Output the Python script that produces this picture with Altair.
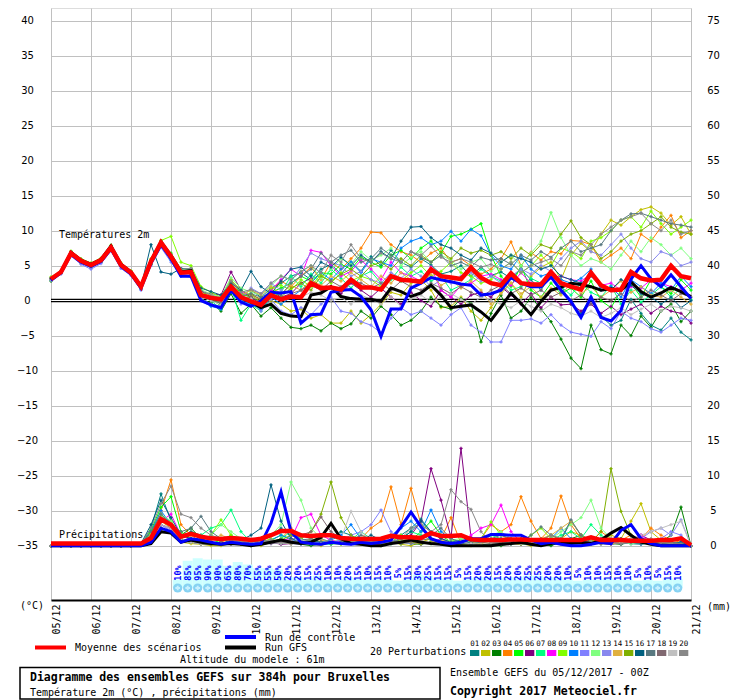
import altair as alt
import pandas as pd

# ---------------- data ----------------
DATES = ["05/12", "06/12", "07/12", "08/12", "09/12", "10/12", "11/12", "12/12", "13/12",
         "14/12", "15/12", "16/12", "17/12", "18/12", "19/12", "20/12", "21/12"]
PERT_NAMES = ["01", "02", "03", "04", "05", "06", "07", "08", "09", "10",
              "11", "12", "13", "14", "15", "16", "17", "18", "19", "20"]
PERT_COLORS = ["#008080", "#c0c000", "#008000", "#ff8000", "#00ff00", "#800080", "#00ff80",
               "#ff00ff", "#80ff00", "#0080ff", "#8080ff", "#80ff80", "#8888ee", "#e0b040",
               "#80b000", "#006080", "#587880", "#806870", "#c0c0c0", "#888888"]

# temperatures 2m (deg C), one value every 6h from 05/12 00Z to 21/12 00Z
T_MEAN = [3.1, 4.1, 6.8, 5.7, 5.1, 5.8, 7.6, 5.1, 4.0, 2.0, 5.6, 8.3, 6.3,
          4.0, 4.1, 0.8, 0.4, 0.2, 2.0, 0.5, -0.1, -0.6, 0.8, 0.2, 0.6, 0.5, 2.5, 1.8, 1.9,
          1.6, 3.0, 1.9, 1.9, 1.6, 3.5, 3.0, 2.9, 2.7, 4.5, 3.5, 3.3, 3.1, 4.7, 3.3, 2.5,
          2.2, 3.9, 2.5, 2.3, 2.3, 4.1, 2.5, 2.0, 1.6, 4.0, 2.2, 1.5, 1.6, 4.1, 3.2, 2.9,
          3.0, 5.0, 3.5, 3.2]
T_CTRL = [2.9, 4.0, 6.6, 5.5, 4.9, 5.6, 7.4, 4.9, 3.8, 1.8, 5.4, 8.0, 6.0,
          3.5, 3.5, 0.0, -0.6, -1.0, 1.5, -0.2, -0.8, 0.0, 1.2, 1.1, 1.3, -3.2, -2.0, -1.9, 1.2,
          1.5, 1.6, 0.6, -1.3, 0.5, 0.8, 2.7, 4.8, 2.7, 1.0, 0.5, 0.3, 0.5, 1.0, 1.0, 1.6,
          1.6, 1.5, 1.5, 0.8, 0.3, 0.5, 0.2, 0.0, 0.0, 0.2, 0.5, 0.3, 2.2, 3.0, 1.0, 0.3,
          0.0, 0.0, 0.0, 0.0]
T_CTRL = [2.9, 4.0, 6.6, 5.5, 4.9, 5.6, 7.4, 4.9, 3.8, 1.8, 5.4, 8.0, 6.0,
          3.5, 3.5, 0.0, -0.6, -1.0, 1.5, -0.2, -0.8, 0.0, 1.2, 1.1, 1.3, -3.2, -2.0, -1.9, 1.2,
          1.5, 1.6, 0.6, -1.3, -5.1, -1.2, -1.2, 1.8, 2.5, 3.3, 3.0, 2.7, 2.4, 2.2, 0.8, 1.0,
          1.5, 3.3, 2.5, 2.0, 2.0, 3.4, 1.5, -0.1, -2.4, 0.5, -2.4, -2.9, -1.4, 3.1, 5.0, 3.1,
          2.0, 3.7, 2.0, 0.3]
T_GFS = [3.0, 4.1, 6.9, 5.8, 5.2, 5.9, 7.8, 5.2, 4.1, 2.1, 5.7, 8.4, 6.4,
         4.1, 4.3, 0.8, 0.3, 0.2, 2.0, 0.4, -0.2, -1.0, -0.5, -1.8, -2.2, -2.3, 0.8, 1.1, 2.0,
         0.6, 0.3, 0.2, 0.2, -0.1, 1.8, 1.3, 0.6, 1.1, 2.2, 0.8, -1.0, -0.8, -0.6, -1.6, -2.8,
         -0.9, 1.1, -0.4, -2.0, -0.1, 1.5, 1.9, 2.5, 2.3, 2.0, 1.5, 1.7, 1.5, 2.7, 1.3, 0.5,
         1.1, 1.9, 1.3, 0.6]
T_P01 = [3.0, 4.3, 6.5, 5.5, 5.3, 6.0, 7.4, 5.3, 3.8, 2.2, 5.4, 8.0, 6.0,
         4.2, 4.5, 1.0, 0.5, -0.5, 2.3, 0.8, 1.5, 0.5, 1.8, 2.5, 3.5, 4.0, 3.0, 4.5, 5.2,
         3.8, 5.5, 4.2, 6.3, 5.0, 7.2, 5.5, 4.8, 6.0, 5.1, 3.8, 4.2, 5.0, 3.5, 4.8, 3.6,
         4.1, 3.2, 4.5, 3.0, 1.5, 3.8, 2.2, -0.5, -1.8, 0.5, -2.2, -3.5, -2.8, 0.2, -1.8, -3.5,
         -4.2, -2.5, -4.5, -5.6]
T_P02 = [3.2, 4.0, 6.9, 5.8, 5.0, 5.7, 7.8, 5.0, 4.2, 1.9, 5.8, 8.6, 6.6,
         3.8, 4.0, 0.5, 0.2, 0.0, 1.8, 0.3, 0.5, -1.0, 0.0, -0.5, -1.5, -1.2, -2.5, -2.0, -3.2,
         -3.2, -1.5, -3.2, -2.0, -0.5, 1.2, 0.8, 2.5, 3.0, 1.5, -1.0, -0.8, 0.5, -1.5, -2.8, -1.0,
         1.2, 2.5, 0.5, 3.5, 4.8, 5.5, 3.0, 6.5, 8.2, 7.0, 9.5, 11.5, 10.8, 12.0, 13.0, 13.4,
         12.5, 10.8, 12.0, 9.5]
T_P03 = [2.8, 3.9, 6.6, 5.4, 4.8, 5.5, 7.3, 4.9, 3.8, 1.7, 5.2, 7.9, 6.0,
         4.3, 3.8, 0.2, -0.3, -1.5, 1.0, -1.8, -0.5, -2.2, -1.0, -2.5, -3.8, -4.0, -3.5, -4.3, -3.2,
         -4.0, -3.3, -1.5, -2.5, -0.8, -2.0, -3.5, -2.8, -1.5, 0.5, -0.8, -1.2, 0.3, -0.4, -5.9, -1.8,
         0.8, -2.5, -1.5, 0.5, -1.2, -3.0, -5.5, -8.2, -9.7, -3.5, -7.0, -7.6, -3.5, -5.0, -2.2, -3.8,
         -1.5, -0.5, -3.0, -1.5]
T_P04 = [3.0, 4.2, 7.0, 5.6, 5.2, 5.9, 7.5, 5.2, 4.1, 2.1, 5.5, 8.2, 6.5,
         4.0, 4.4, 1.2, 0.8, 0.3, 2.5, 0.5, 1.0, 0.0, 1.5, 2.8, 2.0, 3.5, 4.8, 3.0, 5.5,
         4.5, 6.0, 7.5, 9.8, 9.7, 8.0, 7.0, 6.5, 5.5, 6.8, 7.5, 5.5, 6.0, 5.0, 3.8, 4.5,
         6.0, 8.4, 5.0, 6.9, 5.8, 7.0, 6.7, 8.6, 8.5, 8.0, 5.5, 6.5, 7.5, 6.0, 9.5, 8.5,
         10.5, 12.2, 9.0, 10.0]
T_P05 = [3.3, 4.0, 6.7, 5.9, 5.0, 5.8, 7.9, 5.0, 4.0, 2.2, 5.7, 8.4, 6.8,
         4.5, 4.2, 1.5, 0.3, -0.8, 2.8, 1.0, 0.5, -0.5, 1.2, 1.8, 2.5, 3.5, 2.8, 4.0, 3.8,
         5.2, 4.5, 6.2, 5.5, 4.8, 6.5, 7.2, 6.0, 7.5, 8.5, 6.8, 9.2, 9.5, 10.2, 11.0, 6.5,
         3.5, 2.0, 5.0, 1.5, 0.5, 2.5, 1.0, 1.8, 0.5, 2.8, 0.0, -1.0, 1.5, 2.5, 0.5, 3.0,
         2.0, 1.0, 3.0, 1.5]
T_P06 = [3.1, 4.2, 6.8, 5.7, 5.2, 5.9, 7.7, 5.2, 3.9, 2.0, 5.6, 8.2, 6.2,
         3.9, 4.6, 1.3, 1.0, 0.8, 4.1, 1.5, 0.5, -0.5, 1.5, 0.5, 1.0, 2.5, 3.2, 1.8, 2.0,
         1.0, 2.5, 1.5, 0.5, 1.8, 0.5, -0.5, 1.2, 0.0, -0.8, 1.5, 0.5, -0.5, 0.8, 1.2, 0.5,
         2.0, 0.8, -0.5, 1.0, -1.0, 0.5, -0.6, -0.5, -1.5, -0.5, -1.8, -0.8, -2.0, -1.2, -0.5, -1.8,
         -0.8, -1.5, -1.8, -3.2]
T_P07 = [2.9, 4.0, 6.5, 5.6, 5.1, 5.6, 7.4, 5.2, 4.0, 2.3, 5.3, 8.0, 6.2,
         4.1, 3.9, 0.6, 0.0, -1.2, 2.0, -2.8, -0.5, -1.5, 0.5, 1.2, 3.5, 2.0, 3.8, 2.5, 4.5,
         3.2, 1.8, 3.5, 4.2, 2.5, 3.0, 4.8, 3.5, 4.2, 2.8, 3.5, 1.5, 2.2, 3.0, 4.5, 3.5,
         2.8, 1.5, 2.0, 3.2, 2.5, 4.0, 2.0, 0.8, 2.5, 1.2, 0.5, 2.2, -0.5, 1.5, -0.2, 0.8,
         2.0, 0.5, 1.8, 0.2]
T_P08 = [3.2, 4.1, 6.9, 5.6, 5.0, 5.7, 7.5, 5.1, 4.1, 1.9, 5.6, 8.3, 6.4,
         4.2, 4.3, 0.8, 0.4, 0.5, 3.0, 1.2, 0.8, 0.2, 1.5, 3.0, 4.5, 3.5, 7.2, 6.9, 5.0,
         3.5, 4.2, 5.8, 4.5, 3.0, 5.5, 4.0, 3.5, 2.8, 4.8, 1.5, 0.5, 2.2, 2.5, 3.5, 3.8,
         3.0, 2.2, 4.0, 2.5, 2.5, 3.2, 3.5, 3.0, 2.8, 3.8, 2.2, 2.5, 1.5, 2.0, 1.8, 3.0,
         2.5, 2.0, 1.5, 2.5]
T_P09 = [3.4, 4.3, 7.1, 6.0, 5.4, 6.1, 7.9, 5.4, 4.3, 2.3, 6.0, 8.6, 9.2,
         5.5, 5.0, 2.0, 1.2, 0.5, 3.0, 1.5, 0.8, -0.2, 1.8, 2.2, 1.5, 3.0, 2.0, 3.8, 2.5,
         4.0, 2.8, 3.5, 3.0, 2.0, 3.5, 2.8, 4.0, 5.0, 3.5, 4.2, 5.5, 4.0, 3.5, 2.5, 3.0,
         4.5, 5.5, 4.0, 5.0, 6.5, 5.0, 7.5, 7.0, 6.0, 8.5, 9.0, 10.0, 11.5, 12.0, 10.5, 12.8,
         11.0, 9.5, 10.5, 11.5]
T_P10 = [3.0, 4.0, 6.6, 5.5, 5.0, 5.6, 7.3, 4.9, 3.7, 1.6, 5.3, 7.8, 5.8,
         3.5, 3.4, 0.0, -0.8, -1.2, 1.2, 0.0, -0.5, -1.2, 0.5, -0.5, 0.5, 1.5, 2.5, 4.0, 3.0,
         4.5, 5.5, 4.0, 6.0, 5.5, 5.0, 7.5, 8.5, 9.0, 8.0, 8.5, 9.9, 8.5, 10.2, 9.3, 6.5,
         5.0, 4.5, 6.5, 4.5, 3.5, 4.0, 3.0, 2.5, 3.2, 4.5, 1.5, 2.0, 0.5, 3.0, 2.0, 1.0,
         2.5, 1.5, 3.5, 2.0]
T_P11 = [2.9, 3.8, 6.4, 5.2, 4.5, 5.3, 7.1, 4.6, 3.6, 1.5, 5.0, 7.6, 5.5,
         3.8, 3.6, 0.3, -0.5, -0.8, 1.5, -0.5, 0.2, -1.5, 0.2, -1.5, -2.0, -1.0, -2.0, -0.5, 0.5,
         -1.5, -1.8, -3.0, -3.5, -4.6, -2.5, -1.0, -2.0, -1.5, -2.5, -3.5, -2.0, -1.0, -3.5, -4.5, -5.9,
         -5.9, -2.8, -2.8, -2.6, -3.2, -2.0, -3.5, -4.5, -4.8, -5.1, -3.0, -4.0, -1.5, -2.5, -3.0, -4.0,
         -4.5, -3.5, -2.5, -2.8]
T_P12 = [3.3, 4.2, 7.0, 5.9, 5.3, 6.0, 7.8, 5.3, 4.2, 2.2, 5.9, 8.4, 6.5,
         4.4, 4.6, 1.6, 0.9, 0.6, 3.3, 1.8, 1.2, 0.8, 2.2, 3.5, 3.0, 4.2, 5.0, 3.2, 4.5,
         6.0, 5.2, 7.0, 5.8, 6.5, 7.5, 5.0, 6.2, 7.0, 5.5, 6.5, 5.8, 4.5, 5.5, 6.0, 4.2,
         5.5, 6.5, 5.0, 6.8, 8.5, 12.6, 9.0, 6.5, 5.0, 6.0, 5.5, 4.5, 6.5, 8.5, 7.0, 9.0,
         8.0, 6.5, 7.5, 6.0]
T_P13 = [3.1, 4.0, 6.7, 5.5, 5.0, 5.8, 7.5, 5.0, 3.9, 1.8, 5.4, 8.1, 6.1,
         4.0, 4.2, 0.9, 0.3, -0.2, 2.0, 0.5, 1.8, 1.0, 2.5, 1.5, 2.8, 4.8, 6.8, 6.0, 5.5,
         5.0, 3.5, 4.2, 3.0, 2.5, 4.0, 3.2, 4.5, 3.5, 2.0, 3.0, 2.5, 3.5, 4.0, 2.8, 3.5,
         2.5, 3.5, 4.5, 3.8, 5.0, 4.2, 6.0, 7.5, 8.5, 7.0, 6.5, 8.0, 9.5, 7.5, 6.0, 5.5,
         7.0, 6.5, 5.0, 5.5]
T_P14 = [3.2, 4.2, 6.9, 5.8, 5.1, 5.9, 7.6, 5.2, 4.1, 2.1, 5.6, 8.3, 6.4,
         4.3, 4.4, 1.1, 0.6, 0.2, 2.6, 0.8, 1.5, 0.8, 2.0, 1.0, 2.2, 1.5, 3.0, 2.2, 3.5,
         2.8, 4.0, 3.0, 2.0, 3.5, 2.5, 4.0, 3.0, 2.5, 3.8, 2.2, 3.0, 1.8, 2.8, 1.5, -0.5,
         1.0, 2.5, 1.0, 2.0, 0.5, 1.8, 0.8, 2.5, 1.0, 2.0, 0.5, 1.5, 2.8, 1.2, 2.0, 0.8,
         0.5, 1.5, 0.5, -0.5]
T_P15 = [3.0, 4.1, 6.8, 5.6, 5.1, 5.7, 7.6, 5.1, 4.0, 2.0, 5.7, 8.4, 6.3,
         4.1, 4.2, 0.7, 0.2, -0.3, 2.2, 0.6, 0.9, 0.2, 1.0, 0.5, 1.8, 2.5, 1.5, 3.5, 2.8,
         3.8, 4.5, 3.5, 5.0, 5.5, 4.5, 6.0, 5.0, 6.5, 5.5, 7.0, 6.0, 7.5, 6.8, 7.2, 6.5,
         7.0, 6.0, 7.5, 6.5, 8.0, 7.5, 9.5, 11.4, 9.0, 8.0, 6.0, 7.0, 8.5, 9.5, 10.0, 11.0,
         12.0, 10.5, 9.8, 9.5]
T_P16 = [3.1, 4.0, 6.8, 5.7, 5.0, 5.8, 7.7, 5.0, 4.0, 2.0, 8.0, 4.1, 3.8,
         4.6, 4.5, 1.8, 1.3, 0.8, 2.5, 1.5, 4.2, 2.0, 1.0, 2.8, 4.5, 4.8, 3.5, 5.5, 4.8,
         6.2, 5.0, 6.5, 5.5, 7.0, 6.0, 8.5, 10.5, 10.6, 9.0, 8.0, 7.5, 6.5, 5.8, 7.5, 6.8,
         5.5, 6.5, 6.0, 5.5, 4.5, 5.0, 3.5, 3.0, 2.5, 3.5, 2.0, 1.5, 3.0, 2.2, 1.0, 0.5,
         -0.5, 0.5, -1.0, 0.0]
T_P17 = [3.0, 4.1, 6.7, 5.6, 5.1, 5.7, 7.5, 5.1, 3.9, 1.9, 5.5, 8.2, 6.2,
         4.0, 4.1, 0.9, 0.1, -0.4, 2.1, 0.7, 1.0, 0.5, 1.2, 0.8, 2.5, 3.5, 4.5, 6.8, 5.5,
         6.5, 7.2, 5.5, 6.0, 7.5, 6.5, 5.5, 7.0, 6.2, 5.5, 6.5, 5.0, 5.5, 4.8, 6.2, 5.8,
         6.0, 5.2, 6.5, 5.8, 7.0, 6.2, 7.5, 8.5, 7.0, 7.5, 8.0, 10.0, 11.5, 12.4, 12.5, 12.0,
         11.5, 11.0, 10.8, 10.5]
T_P18 = [3.1, 4.0, 6.8, 5.7, 5.1, 5.8, 7.6, 5.1, 4.0, 2.0, 5.6, 8.3, 6.3,
         4.0, 4.1, 0.8, 0.3, -0.2, 2.0, 0.4, 0.6, -0.3, 0.8, 0.2, 1.0, 1.5, 2.2, 1.5, 2.8,
         2.0, 3.0, 2.5, 1.8, 2.5, 1.5, 2.8, 2.0, 1.5, 2.5, 1.8, 1.0, 2.0, 1.2, 0.5, 1.5,
         2.2, 1.0, 1.8, 0.8, 1.5, 0.5, 1.2, 0.0, 0.8, -0.5, 0.5, 0.0, 1.0, -0.2, 0.5, 1.5,
         0.8, 0.0, 1.0, 0.5]
T_P19 = [3.0, 4.0, 6.6, 5.5, 5.0, 5.6, 7.4, 5.0, 3.9, 1.9, 5.4, 8.1, 6.1,
         3.9, 4.0, 0.6, 0.0, -0.6, 1.8, 0.2, 0.3, -0.8, 0.6, 0.0, 0.8, 0.5, 1.2, 0.8, 0.0,
         0.5, -0.5, 0.8, 0.2, -0.5, 0.5, -0.8, 0.3, 0.8, -0.2, 0.5, 1.0, 0.2, -0.5, 0.5, 0.0,
         -0.5, -1.0, 0.0, -0.8, -1.5, -0.5, -1.0, -1.8, -2.2, -1.5, -2.4, -1.8, -1.0, -2.0, -1.2, -0.5,
         -1.5, -0.8, -1.0, -1.5]
T_P20 = [3.3, 4.2, 7.0, 5.9, 5.2, 6.0, 7.8, 5.3, 4.2, 2.1, 5.8, 8.5, 6.6,
         4.5, 4.6, 1.4, 0.8, 0.4, 2.8, 1.2, 1.6, 1.0, 2.5, 3.5, 3.0, 4.2, 5.0, 4.0, 6.5,
         5.5, 8.0, 6.0, 5.5, 6.8, 6.0, 5.5, 7.0, 6.5, 7.8, 6.2, 5.5, 6.0, 5.5, 4.8, 5.2,
         4.5, 5.5, 4.0, 5.0, 5.5, 6.0, 5.0, 7.0, 6.5, 8.0, 9.5, 10.5, 11.5, 12.0, 12.5, 11.0,
         10.0, 11.5, 9.5, 10.0]

# precipitation (mm per 6h)
R_MEAN = [0.3, 0.3, 0.3, 0.3, 0.3, 0.3, 0.3, 0.3, 0.3, 0.3, 1.1, 3.8, 3.0,
          1.3, 1.7, 1.3, 1.05, 0.95, 1.1, 1.0, 0.8, 1.0, 1.5, 2.1, 2.1, 1.5, 1.4, 1.5, 1.5,
          1.1, 1.0, 0.95, 0.95, 1.0, 1.4, 1.2, 1.2, 1.1, 1.8, 1.4, 1.4, 1.5, 0.9, 0.8, 0.8,
          0.8, 0.9, 0.9, 0.8, 0.8, 0.8, 0.8, 0.8, 0.8, 1.2, 0.8, 0.8, 0.8, 0.7, 0.7, 0.7,
          0.8, 0.8, 1.05, 0.1]
R_CTRL = [0, 0, 0, 0, 0, 0, 0, 0, 0, 0, 0.5, 2.5, 2.0,
          0.5, 1.0, 0.8, 0.5, 0.2, 0.5, 0.3, 0.2, 0.3, 3.2, 7.7, 2.0, 0.5, 0.3, 0.2, 0.5,
          0.3, 0.2, 0.5, 0.3, 0.5, 0.8, 2.7, 4.8, 2.7, 1.0, 0.5, 0.3, 0.5, 1.0, 1.0, 1.6,
          1.6, 1.5, 1.5, 0.8, 0.3, 0.5, 0.2, 0.0, 0.0, 0.2, 0.5, 0.3, 2.2, 3.0, 1.0, 0.3,
          0.0, 0.0, 0.0, 0.0]
R_GFS = [0, 0, 0, 0, 0, 0, 0, 0, 0, 0, 0.3, 2.0, 1.8,
         0.5, 0.8, 0.5, 0.3, 0.2, 0.3, 0.2, 0.0, 0.2, 0.5, 0.8, 0.5, 0.3, 0.5, 1.2, 3.2,
         1.0, 0.3, 0.2, 0.0, 0.0, 0.3, 0.5, 0.8, 0.5, 0.3, 0.2, 0.0, 0.0, 0.0, 0.0, 0.0,
         0.2, 0.3, 0.5, 0.2, 0.0, 0.3, 0.5, 0.3, 0.5, 0.3, 0.8, 1.8, 2.6, 1.5, 0.5, 0.2,
         0.0, 0.0, 0.0, 0.0]
R_P01 = [0, 0, 0, 0, 0, 0, 0, 0, 0, 0.3, 2.5, 7.4, 3.5,
         1.0, 2.0, 1.5, 0.5, 0.3, 0.8, 0.5, 0.3, 0.5, 1.5, 2.5, 1.5, 0.8, 0.5, 0.3, 1.0,
         2.0, 1.5, 0.5, 0.3, 0.2, 0.5, 1.5, 2.5, 3.8, 2.0, 1.0, 0.5, 0.8, 0.5, 0.3, 0.2,
         0.5, 1.0, 0.8, 0.5, 0.3, 0.5, 0.8, 3.5, 1.5, 0.5, 0.3, 0.2, 0.5, 0.3, 0.8, 0.5,
         0.3, 0.2, 0.5, 0.0]
R_P02 = [0, 0, 0, 0, 0, 0, 0, 0, 0, 0.1, 1.5, 3.5, 2.5,
         0.5, 0.3, 0.2, 0.0, 0.0, 0.3, 0.5, 0.2, 0.0, 0.5, 1.0, 0.5, 0.3, 0.2, 0.0, 0.5,
         1.0, 0.5, 0.2, 0.0, 0.3, 0.5, 0.2, 0.0, 0.5, 1.0, 0.5, 0.3, 0.2, 0.0, 0.3, 0.5,
         0.8, 0.5, 0.3, 0.0, 0.2, 0.5, 1.0, 2.0, 1.5, 0.8, 0.5, 1.5, 1.0, 3.5, 6.0, 2.0,
         0.8, 0.5, 0.3, 0.0]
R_P03 = [0, 0, 0, 0, 0, 0, 0, 0, 0, 0.2, 1.8, 4.5, 3.0,
         1.5, 2.5, 1.0, 0.5, 0.3, 0.5, 0.2, 0.0, 0.5, 0.8, 0.3, 0.5, 0.2, 0.0, 0.3, 0.5,
         0.3, 0.8, 0.5, 0.2, 0.0, 0.3, 0.5, 0.3, 0.2, 0.5, 0.3, 0.0, 0.3, 0.5, 0.2, 0.0,
         0.0, 0.3, 0.5, 0.3, 0.2, 0.0, 0.5, 1.0, 1.5, 0.8, 0.5, 0.3, 0.2, 0.5, 1.0, 0.8,
         0.5, 1.5, 5.5, 0.0]
R_P04 = [0, 0, 0, 0, 0, 0, 0, 0, 0, 0.2, 2.0, 5.0, 9.4,
         3.0, 1.5, 0.5, 0.3, 0.5, 1.0, 0.8, 0.5, 0.3, 0.5, 1.0, 2.5, 1.5, 1.0, 0.5, 0.8,
         0.5, 0.3, 1.0, 2.5, 3.5, 8.4, 3.0, 8.2, 3.0, 2.0, 1.0, 4.0, 0.3, 0.5, 1.0, 3.0,
         2.0, 3.0, 7.0, 3.5, 1.0, 2.5, 7.1, 3.0, 1.0, 0.5, 2.0, 1.0, 0.8, 1.5, 1.0, 2.5,
         1.5, 0.8, 0.5, 0.0]
R_P05 = [0, 0, 0, 0, 0, 0, 0, 0, 0, 0.2, 2.2, 5.5, 7.0,
         2.0, 1.0, 0.5, 0.3, 0.8, 1.5, 0.5, 0.2, 0.3, 0.8, 1.5, 0.8, 0.5, 0.3, 0.2, 0.5,
         0.8, 0.5, 0.3, 0.5, 1.0, 0.5, 0.3, 0.8, 2.0, 3.5, 1.5, 0.5, 0.3, 0.5, 0.8, 0.5,
         0.3, 0.2, 0.5, 0.8, 0.5, 1.0, 0.5, 0.3, 0.2, 0.5, 0.3, 0.2, 0.5, 0.3, 0.2, 0.5,
         0.3, 0.5, 0.2, 0.0]
R_P06 = [0, 0, 0, 0, 0, 0, 0, 0, 0, 0.1, 1.5, 3.0, 2.5,
         1.0, 0.5, 0.3, 0.2, 0.5, 0.3, 0.8, 0.5, 0.3, 0.5, 0.2, 0.3, 0.5, 0.3, 0.2, 0.5,
         0.3, 0.5, 0.8, 0.5, 0.3, 0.5, 1.0, 1.5, 3.5, 11.0, 6.5, 1.2, 13.9, 1.2, 0.5, 0.3,
         0.5, 0.3, 0.2, 0.5, 0.3, 0.5, 0.8, 0.3, 0.5, 0.3, 1.0, 0.5, 0.3, 0.5, 1.5, 0.8,
         0.5, 0.3, 0.2, 0.0]
R_P07 = [0, 0, 0, 0, 0, 0, 0, 0, 0, 0.2, 1.5, 4.0, 3.0,
         1.0, 0.5, 1.5, 2.5, 3.0, 5.1, 2.0, 0.5, 0.3, 0.5, 1.0, 2.0, 1.0, 0.5, 0.3, 0.2,
         0.5, 0.8, 2.0, 1.0, 0.5, 0.3, 1.0, 2.0, 1.5, 0.8, 0.5, 0.3, 0.5, 0.3, 0.8, 1.5,
         1.0, 0.5, 0.3, 0.2, 0.5, 0.8, 1.5, 2.0, 1.0, 3.0, 1.5, 0.5, 0.3, 0.5, 0.2, 0.5,
         0.8, 0.5, 0.3, 0.0]
R_P08 = [0, 0, 0, 0, 0, 0, 0, 0, 0, 0.1, 1.2, 3.5, 4.5,
         1.5, 0.8, 0.5, 0.3, 0.5, 0.3, 0.2, 0.5, 0.3, 0.5, 0.8, 1.0, 4.0, 4.5, 1.5, 0.8,
         0.5, 0.3, 0.5, 0.3, 0.2, 0.5, 0.8, 0.5, 0.3, 0.5, 1.0, 0.5, 0.3, 1.5, 2.5, 3.0,
         5.8, 2.0, 0.5, 0.3, 0.2, 0.5, 0.3, 0.5, 0.8, 0.5, 0.3, 0.2, 0.5, 0.8, 1.5, 0.5,
         0.3, 0.5, 0.2, 0.0]
R_P09 = [0, 0, 0, 0, 0, 0, 0, 0, 0, 0.2, 1.8, 4.0, 3.5,
         1.5, 1.0, 0.8, 1.5, 3.7, 1.5, 0.5, 0.3, 0.5, 1.0, 0.5, 0.3, 0.5, 0.8, 0.5, 0.3,
         0.2, 0.5, 1.0, 0.5, 0.3, 0.5, 1.5, 1.0, 0.5, 0.3, 0.5, 0.8, 0.5, 0.3, 1.0, 3.4,
         1.5, 0.8, 0.5, 1.5, 2.5, 1.0, 0.5, 0.3, 0.5, 0.8, 0.5, 0.3, 0.5, 1.0, 0.8, 0.5,
         0.3, 0.5, 0.3, 0.0]
R_P10 = [0, 0, 0, 0, 0, 0, 0, 0, 0, 0.2, 2.0, 5.0, 3.0,
         0.8, 0.5, 0.3, 0.2, 0.3, 0.5, 0.3, 0.2, 0.5, 0.8, 1.5, 1.0, 0.5, 0.3, 0.5, 0.8,
         1.5, 3.0, 1.0, 0.5, 0.8, 1.5, 2.5, 3.5, 2.0, 5.1, 2.0, 1.0, 0.5, 0.3, 0.5, 0.8,
         1.0, 0.5, 0.3, 0.2, 0.5, 1.0, 2.5, 1.0, 0.5, 0.3, 0.5, 1.0, 0.5, 0.8, 0.3, 0.5,
         0.3, 0.2, 0.5, 0.0]
R_P11 = [0, 0, 0, 0, 0, 0, 0, 0, 0, 0.1, 1.0, 3.0, 2.0,
         0.8, 0.5, 0.3, 0.2, 0.3, 0.5, 0.2, 0.3, 0.5, 0.3, 0.5, 0.8, 0.5, 0.3, 0.2, 0.5,
         0.8, 1.5, 2.0, 3.0, 5.1, 2.0, 0.8, 0.5, 0.3, 0.5, 0.3, 0.2, 0.5, 0.8, 0.5, 0.3,
         0.2, 0.5, 0.3, 0.5, 0.8, 0.5, 0.3, 0.2, 0.5, 0.3, 0.5, 0.8, 0.5, 0.3, 0.2, 0.5,
         1.0, 2.0, 1.5, 0.0]
R_P12 = [0, 0, 0, 0, 0, 0, 0, 0, 0, 0.2, 1.5, 4.5, 3.5,
         1.0, 0.5, 0.8, 1.5, 3.0, 2.0, 1.0, 0.5, 0.8, 1.5, 3.0, 9.1, 6.5, 2.5, 1.0, 0.5,
         0.3, 0.5, 0.8, 0.5, 0.3, 0.5, 0.8, 1.0, 0.5, 0.3, 0.5, 0.8, 1.0, 0.5, 0.3, 1.5,
         2.0, 1.0, 0.5, 0.3, 0.5, 1.0, 2.0, 3.0, 4.0, 6.5, 2.5, 1.0, 0.5, 0.3, 0.5, 0.8,
         0.5, 0.3, 0.2, 0.0]
R_P13 = [0, 0, 0, 0, 0, 0, 0, 0, 0, 0.1, 1.2, 3.0, 2.2,
         0.8, 0.5, 0.3, 0.5, 0.3, 0.2, 0.5, 0.3, 0.5, 0.8, 0.5, 0.3, 0.2, 0.5, 0.3, 0.5,
         0.8, 0.5, 0.3, 0.2, 0.5, 0.8, 0.5, 0.3, 0.5, 0.3, 0.2, 0.5, 0.3, 0.5, 0.8, 0.5,
         0.3, 0.2, 0.5, 0.3, 0.5, 0.8, 0.5, 0.3, 0.2, 0.5, 0.8, 0.5, 0.3, 0.5, 1.0, 2.0,
         2.5, 1.5, 3.7, 0.0]
R_P14 = [0, 0, 0, 0, 0, 0, 0, 0, 0, 0.2, 1.5, 3.5, 3.0,
         1.5, 1.0, 0.5, 0.8, 1.5, 1.0, 0.5, 0.3, 0.5, 0.8, 0.5, 0.3, 0.5, 1.0, 0.8, 0.5,
         0.3, 0.5, 0.8, 0.5, 1.0, 1.5, 0.8, 0.5, 0.3, 0.5, 0.8, 0.5, 0.3, 0.5, 0.3, 0.5,
         0.8, 0.5, 0.3, 0.5, 1.0, 1.5, 2.5, 3.5, 1.5, 0.8, 0.5, 0.3, 0.5, 0.8, 0.5, 0.3,
         0.5, 0.3, 0.2, 0.0]
R_P15 = [0, 0, 0, 0, 0, 0, 0, 0, 0, 0.1, 1.0, 2.5, 2.0,
         0.8, 0.5, 0.3, 0.2, 0.5, 0.3, 0.2, 0.5, 0.3, 0.5, 0.8, 1.5, 1.0, 2.0, 4.5, 9.1,
         4.0, 1.5, 0.8, 0.5, 0.3, 0.5, 0.8, 0.5, 0.3, 0.5, 0.3, 0.2, 0.5, 0.8, 0.5, 0.3,
         0.5, 0.3, 0.2, 0.5, 0.8, 1.5, 0.8, 0.5, 0.3, 0.5, 2.0, 11.0, 4.9, 1.5, 0.8, 0.5,
         0.3, 0.5, 0.3, 0.0]
R_P16 = [0, 0, 0, 0, 0, 0, 0, 0, 0, 0.3, 3.0, 6.5, 4.0,
         1.5, 1.0, 0.8, 0.5, 0.3, 0.5, 0.8, 1.5, 2.5, 8.7, 3.5, 1.0, 0.5, 0.8, 0.5, 0.3,
         0.5, 0.3, 0.8, 1.5, 0.8, 0.5, 1.0, 2.0, 3.5, 2.0, 1.0, 0.5, 0.3, 0.5, 0.8, 0.5,
         0.3, 0.5, 1.0, 0.8, 0.5, 0.3, 0.5, 0.8, 0.5, 0.3, 0.5, 0.8, 1.0, 0.5, 0.3, 0.5,
         0.3, 0.2, 0.5, 0.0]
R_P17 = [0, 0, 0, 0, 0, 0, 0, 0, 0, 0.2, 2.0, 4.5, 3.0,
         2.0, 2.5, 4.2, 2.0, 1.0, 0.5, 0.3, 0.5, 0.8, 0.5, 0.3, 0.5, 0.8, 1.0, 0.5, 0.3,
         0.5, 0.8, 1.5, 1.0, 0.5, 0.3, 0.5, 0.8, 1.0, 1.5, 2.5, 1.0, 0.5, 0.3, 0.5, 1.0,
         1.5, 1.0, 0.5, 1.5, 2.7, 1.5, 1.0, 3.7, 1.5, 0.5, 0.3, 0.5, 0.8, 0.5, 0.3, 0.5,
         0.8, 0.5, 0.3, 0.0]
R_P18 = [0, 0, 0, 0, 0, 0, 0, 0, 0, 0.1, 1.0, 2.5, 2.0,
         0.8, 0.5, 0.3, 0.2, 0.5, 0.3, 0.5, 0.8, 0.5, 0.3, 0.5, 0.8, 1.5, 2.0, 4.1, 2.0,
         1.0, 0.5, 0.3, 0.5, 0.8, 0.5, 0.3, 0.5, 0.8, 1.0, 0.5, 0.3, 0.5, 0.8, 0.5, 0.3,
         0.5, 0.3, 0.5, 0.8, 1.0, 0.5, 0.3, 0.5, 0.8, 0.5, 0.3, 0.5, 0.3, 0.5, 0.8, 0.5,
         0.3, 0.5, 0.2, 0.0]
R_P19 = [0, 0, 0, 0, 0, 0, 0, 0, 0, 0.1, 1.2, 3.0, 2.5,
         1.0, 0.5, 0.3, 0.5, 0.3, 0.5, 0.8, 0.5, 0.3, 0.5, 0.3, 0.5, 0.8, 0.5, 0.3, 0.5,
         1.0, 4.9, 2.0, 0.8, 0.5, 0.3, 0.5, 0.8, 0.5, 0.3, 0.5, 0.3, 0.5, 0.3, 0.2, 0.5,
         0.8, 0.5, 0.3, 0.5, 0.3, 0.5, 0.8, 0.5, 0.3, 0.5, 0.8, 1.0, 0.5, 1.0, 1.5, 2.0,
         2.5, 3.0, 3.5, 0.0]
R_P20 = [0, 0, 0, 0, 0, 0, 0, 0, 0, 0.3, 2.5, 6.0, 8.5,
         4.5, 4.0, 2.5, 1.5, 1.0, 0.8, 0.5, 0.3, 0.5, 0.8, 0.5, 0.3, 0.5, 0.8, 1.0, 0.5,
         0.3, 0.5, 0.8, 0.5, 0.3, 0.5, 1.0, 2.5, 3.0, 2.0, 3.0, 8.0, 6.3, 5.2, 2.0, 0.5,
         0.3, 0.5, 0.3, 0.5, 0.8, 1.5, 1.0, 0.5, 0.3, 0.5, 0.8, 0.5, 0.3, 0.5, 0.8, 1.0,
         0.5, 0.3, 0.2, 0.0]

# snow probability flags (every 6h from 08/12)
SNOW_PCT = [10, 85, 95, 90, 90, 65, 80, 70, 55, 55, 50, 20, 20, 15, 25, 10, 10, 20, 15, 10,
            15, 10, 5, 15, 30, 25, 15, 15, 5, 15, 20, 20, 15, 20, 20, 25, 25, 20, 20, 10,
            5, 10, 10, 15, 10, 10, 5, 10, 5, 15, 10]

PERT_T = [T_P01, T_P02, T_P03, T_P04, T_P05, T_P06, T_P07, T_P08, T_P09, T_P10,
          T_P11, T_P12, T_P13, T_P14, T_P15, T_P16, T_P17, T_P18, T_P19, T_P20]
PERT_R = [R_P01, R_P02, R_P03, R_P04, R_P05, R_P06, R_P07, R_P08, R_P09, R_P10,
          R_P11, R_P12, R_P13, R_P14, R_P15, R_P16, R_P17, R_P18, R_P19, R_P20]

NSTEP = 65
for nm, s in [("T_MEAN", T_MEAN), ("T_CTRL", T_CTRL), ("T_GFS", T_GFS), ("R_MEAN", R_MEAN),
              ("R_CTRL", R_CTRL), ("R_GFS", R_GFS)] + \
        [("T_P" + n, s) for n, s in zip(PERT_NAMES, PERT_T)] + \
        [("R_P" + n, s) for n, s in zip(PERT_NAMES, PERT_R)]:
    if len(s) != NSTEP:
        raise ValueError(f"{nm} has {len(s)} values")

# ---------------- layout / style constants ----------------
W, H = 640, 592
PAD = {"left": 43, "right": 40, "top": 0, "bottom": 100}
T_TOP = (300.7 - 8) / 7.0
T_BOT = (300.7 - 600) / 7.0
MONO = "DejaVu Sans Mono"
SANS = "DejaVu Sans"
ZERO_LINES = [0.2, -0.12]
SNOW_FIRST_STEP = 12
SNOW_SHIFT = 0.67
SNOW_TEXT_T = (300.7 - 573) / 7.0
SNOW_DOT_T = (300.7 - 588) / 7.0
SNOW_BAR_BASE_T = (300.7 - 582) / 7.0
SNOW_BAR_PER_PCT = 0.25 / 7.0

# ---------------- tables ----------------
steps = list(range(NSTEP))
pert_t = pd.DataFrame([{"member": n, "step": i, "v": v}
                       for n, s in zip(PERT_NAMES, PERT_T) for i, v in enumerate(s)])
pert_r = pd.DataFrame([{"member": n, "step": i, "v": v}
                       for n, s in zip(PERT_NAMES, PERT_R) for i, v in enumerate(s)])
mean_t = pd.DataFrame({"step": steps, "v": T_MEAN})
ctrl_t = pd.DataFrame({"step": steps, "v": T_CTRL})
gfs_t = pd.DataFrame({"step": steps, "v": T_GFS})
mean_r = pd.DataFrame({"step": steps, "v": R_MEAN})
ctrl_r = pd.DataFrame({"step": steps, "v": R_CTRL})
gfs_r = pd.DataFrame({"step": steps, "v": R_GFS})

snow = pd.DataFrame({"t": [SNOW_FIRST_STEP + k + SNOW_SHIFT for k in range(len(SNOW_PCT))],
                     "pct": SNOW_PCT})
snow["lbl"] = snow["pct"].astype(str) + "%"
snow["t0"] = snow["t"] - 0.5
snow["t1"] = snow["t"] + 0.5
snow["top"] = SNOW_BAR_BASE_T + snow["pct"] * SNOW_BAR_PER_PCT
snow["bot"] = SNOW_DOT_T
snow["ty"] = SNOW_TEXT_T
zero_df = pd.DataFrame({"z": ZERO_LINES})
one = pd.DataFrame({"a": [0]})

# ---------------- scales / axes ----------------
x_scale = alt.Scale(domain=[0, NSTEP - 1], nice=False, zero=False)
label_expr = "[" + ",".join(f"'{d}'" for d in DATES) + "][round(datum.value/4)]"
x_axis = alt.Axis(values=list(range(0, NSTEP, 4)), labelExpr=label_expr, grid=True,
                  ticks=False, tickSize=0, domain=True, domainColor="black", domainWidth=2,
                  labelAngle=270, labelAlign="right", labelBaseline="top", labelPadding=4,
                  labelFont=MONO, labelFontSize=10, labelColor="black", title=None,
                  labelOverlap=False, labelFlush=False, labelBound=False,
                  gridColor="#c0c0c0", gridWidth=1)
t_scale = alt.Scale(domain=[T_BOT, T_TOP], nice=False, zero=False)
t_axis = alt.Axis(values=list(range(-35, 41, 5)), grid=True, ticks=False, tickSize=0,
                  domain=False, labelAlign="center", labelBaseline="middle", labelPadding=24,
                  labelFont=SANS, labelFontSize=10, labelColor="black", title=None,
                  gridColor="#c0c0c0", gridWidth=1, labelOverlap=False, labelFlush=False)
r_scale = alt.Scale(domain=[T_BOT + 35, T_TOP + 35], nice=False, zero=False)
r_axis = alt.Axis(orient="right", values=list(range(0, 76, 5)), grid=False, ticks=False,
                  tickSize=0, domain=False, labelAlign="center", labelBaseline="middle",
                  labelPadding=22, labelFont=SANS, labelFontSize=10, labelColor="black",
                  title=None, labelOverlap=False, labelFlush=False)
color_scale = alt.Scale(domain=PERT_NAMES, range=PERT_COLORS)


def X(f):
    return alt.X(f"{f}:Q", scale=x_scale, axis=x_axis)


def TY(f):
    return alt.Y(f"{f}:Q", scale=t_scale, axis=t_axis)


def RY(f):
    return alt.Y(f"{f}:Q", scale=r_scale, axis=r_axis)


def text(s, x, y, size=10, bold=False, font=MONO, color="black", align="left"):
    return alt.Chart(one).mark_text(text=s, align=align, baseline="middle", font=font,
                                    fontSize=size, fontWeight="bold" if bold else "normal",
                                    color=color).encode(x=alt.value(x), y=alt.value(y))


# ---------------- temperature group ----------------
zero_rules = alt.Chart(zero_df).mark_rule(color="black", strokeWidth=1.3).encode(
    y=TY("z"), x=alt.value(0), x2=alt.value(W))
snow_bars = alt.Chart(snow).mark_rect(color="#ccffff").encode(
    x=X("t0"), x2=alt.X2("t1"), y=TY("top"), y2=alt.Y2("bot"))
snow_dots = alt.Chart(snow).mark_point(shape="circle", filled=True, size=85, opacity=1,
                                       color="#86d2f2").encode(x=X("t"), y=TY("bot"))
snow_dots2 = alt.Chart(snow).mark_point(shape="cross", filled=True, size=22, opacity=1,
                                        color="#c8f0ff").encode(x=X("t"), y=TY("bot"))
snow_text = alt.Chart(snow).mark_text(angle=270, align="center", baseline="middle",
                                      font=MONO, fontSize=8.5, fontWeight="bold",
                                      color="#0000ff").encode(x=X("t"), y=TY("ty"), text="lbl:N")
pt_lines = alt.Chart(pert_t).mark_line(strokeWidth=1).encode(
    x=X("step"), y=TY("v"), detail="member:N",
    color=alt.Color("member:N", scale=color_scale, legend=None))
pt_marks = alt.Chart(pert_t).mark_point(shape="cross", filled=True, size=10, opacity=1).encode(
    x=X("step"), y=TY("v"), color=alt.Color("member:N", scale=color_scale, legend=None))
gfs_t_line = alt.Chart(gfs_t).mark_line(color="black", strokeWidth=3).encode(x=X("step"), y=TY("v"))
ctrl_t_line = alt.Chart(ctrl_t).mark_line(color="#0000ff", strokeWidth=3).encode(x=X("step"), y=TY("v"))
mean_t_line = alt.Chart(mean_t).mark_line(color="#ff0000", strokeWidth=4.5).encode(x=X("step"), y=TY("v"))

temp_group = alt.layer(zero_rules, snow_bars, snow_dots, snow_dots2, snow_text, pt_lines,
                       pt_marks, gfs_t_line, ctrl_t_line, mean_t_line,
                       text("Températures 2m", 8, 227))

# ---------------- precipitation group ----------------
pr_lines = alt.Chart(pert_r).mark_line(strokeWidth=1).encode(
    x=X("step"), y=RY("v"), detail="member:N",
    color=alt.Color("member:N", scale=color_scale, legend=None))
pr_marks = alt.Chart(pert_r).mark_point(shape="cross", filled=True, size=10, opacity=1).encode(
    x=X("step"), y=RY("v"), color=alt.Color("member:N", scale=color_scale, legend=None))
gfs_r_line = alt.Chart(gfs_r).mark_line(color="black", strokeWidth=3).encode(x=X("step"), y=RY("v"))
ctrl_r_line = alt.Chart(ctrl_r).mark_line(color="#0000ff", strokeWidth=3).encode(x=X("step"), y=RY("v"))
mean_r_line = alt.Chart(mean_r).mark_line(color="#ff0000", strokeWidth=4.5).encode(x=X("step"), y=RY("v"))

prec_group = alt.layer(pr_lines, pr_marks, gfs_r_line, ctrl_r_line, mean_r_line,
                       text("Précipitations", 8, 527))

# ---------------- legend / captions ----------------
deco = [
    text("(°C)", -31, 598),
    text("(mm)", 656, 599),
    alt.Chart(one).mark_rule(color="#ff0000", strokeWidth=4).encode(
        x=alt.value(-16), x2=alt.value(15), y=alt.value(639.5)),
    text("Moyenne des scénarios", 24, 639.5),
    alt.Chart(one).mark_rule(color="#0000ff", strokeWidth=4).encode(
        x=alt.value(174), x2=alt.value(205), y=alt.value(629)),
    alt.Chart(one).mark_rule(color="black", strokeWidth=4).encode(
        x=alt.value(174), x2=alt.value(205), y=alt.value(639.5)),
    text("Run de contrôle", 214, 629.5),
    text("Run GFS", 214, 639.5),
    text("Altitude du modele : 61m", 129, 652),
    text("20 Perturbations", 319, 644),
    alt.Chart(one).mark_rect(fill="white", fillOpacity=0, stroke="black", strokeWidth=1.5).encode(
        x=alt.value(-31), x2=alt.value(389), y=alt.value(659.5), y2=alt.value(691)),
    text("Diagramme des ensembles GEFS sur 384h pour Bruxelles", -21, 669.5, size=11.5, bold=True),
    text("Température 2m (°C) , précipitations (mm)", -21, 684.5),
    text("Ensemble GEFS du 05/12/2017 - 00Z", 399, 664.5),
    text("Copyright 2017 Meteociel.fr", 399, 684, size=11.5, bold=True),
]
for k, (nm, col) in enumerate(zip(PERT_NAMES, PERT_COLORS)):
    x0 = 419 + 11 * k
    deco.append(alt.Chart(one).mark_rect(color=col).encode(
        x=alt.value(x0), x2=alt.value(x0 + 9.3), y=alt.value(642), y2=alt.value(648)))
    deco.append(text(nm, x0 + 4.7, 636, size=7.5, align="center"))

deco_group = alt.layer(*deco)

chart = alt.layer(temp_group, prec_group, deco_group).resolve_scale(
    y="independent"
).properties(
    width=W, height=H,
    autosize=alt.AutoSizeParams(type="none"),
    padding=PAD,
).configure_view(stroke=None).configure(background="white")

chart.save("out.html", embed_options={"renderer": "svg", "actions": False})
